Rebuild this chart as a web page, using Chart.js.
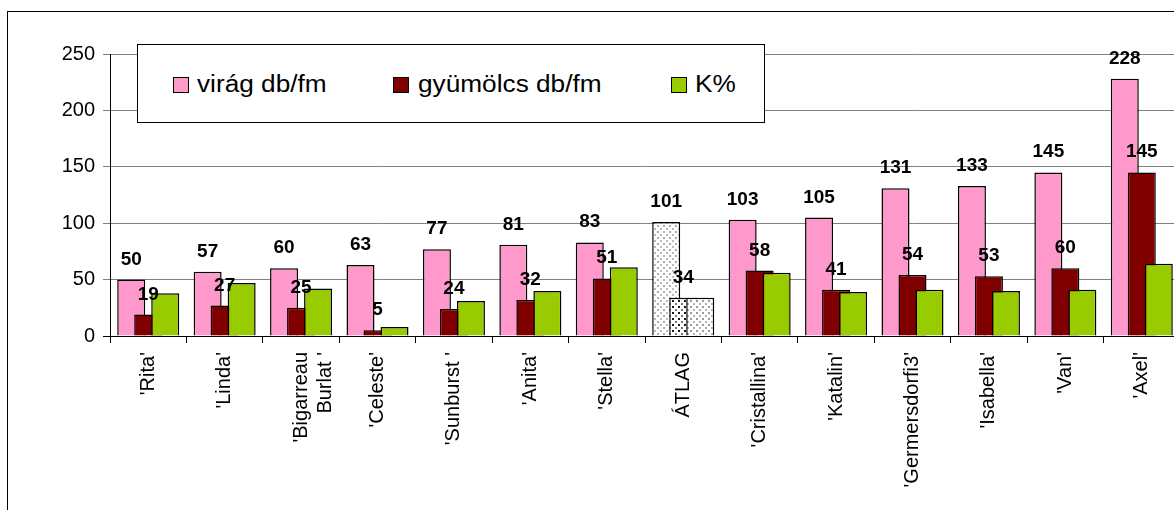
<!DOCTYPE html>
<html>
<head>
<meta charset="utf-8">
<script src="https://cdn.jsdelivr.net/npm/chart.js@4"></script>
<style>
  html, body { margin: 0; padding: 0; background: #fff; overflow: hidden; }
  #wrap { position: relative; width: 1174px; height: 510px; overflow: hidden; }
  #frame { position: absolute; left: 7px; top: 11px; width: 1300px; height: 600px;
           border: 1px solid #000; pointer-events: none; }
  #box { position: absolute; left: 0; top: 0; width: 1180px; height: 510px; }
  #legend { position: absolute; left: 137px; top: 44px; width: 626px; height: 77px;
            border: 1px solid #000; background: #fff;
            font-family: "Liberation Sans", Arial, sans-serif; font-size: 23px; color: #000; }
  .sw { position: absolute; top: 32px; width: 14px; height: 14px; border: 1px solid #000; }
  .lt { position: absolute; top: 26px; line-height: 26px; white-space: nowrap;
        transform: scaleX(1.14); transform-origin: left center; }
</style>
</head>
<body>
<div id="wrap">
  <div id="frame"></div>
  <div id="box"><canvas id="chart"></canvas></div>
  <div id="legend"></div>
</div>
<script>
// fajták (kategóriák)
const fajtak = ["'Rita'", "'Linda'", ["'Bigarreau", "Burlat '"], "'Celeste'", "'Sunburst '",
  "'Anita'", "'Stella'", "ÁTLAG", "'Cristallina'", "'Katalin'", "'Germersdorfi3'",
  "'Isabella'", "'Van'", "'Axel'"];

const virag    = [50, 57, 60, 63, 77, 81, 83, 101, 103, 105, 131, 133, 145, 228];
const gyumolcs = [19, 27, 25, 5, 24, 32, 51, 34, 58, 41, 54, 53, 60, 145];
const kSzazalek = [38, 47, 42, 8, 31, 40, 61, 34, 56, 39, 41, 40, 41, 64];

const yTicks = [0, 50, 100, 150, 200, 250];
const atlagIndex = 7;

const FONT = '"Liberation Sans", Arial, sans-serif';

// pöttyös minta az ÁTLAG oszlopokhoz
function pottyos(dot1, dot2) {
  const c = document.createElement('canvas');
  c.width = 6; c.height = 6;
  const g = c.getContext('2d');
  g.fillStyle = '#fff';
  g.fillRect(0, 0, 6, 6);
  g.fillStyle = dot1;
  g.fillRect(0, 0, 2, 2);
  g.fillStyle = dot2;
  g.fillRect(3, 3, 2, 2);
  return g.createPattern(c, 'repeat');
}

function szinek(alap, minta) {
  return virag.map((_, i) => i === atlagIndex ? minta : alap);
}

const sorozatok = [
  { label: 'virág db/fm', data: virag, color: '#ff99cc', minta: pottyos('#bcbcbc', '#acacac') },
  { label: 'gyümölcs db/fm', data: gyumolcs, color: '#800000', minta: pottyos('#1a1a1a', '#7a7a7a') },
  { label: 'K%', data: kSzazalek, color: '#99cc00', minta: pottyos('#9c9c9c', '#b4b4b4') }
];

// HTML jelmagyarázat
const legendPos = [[35, 59], [255, 280], [533, 557]];
const legendEl = document.getElementById('legend');
sorozatok.forEach((s, i) => {
  const sw = document.createElement('div');
  sw.className = 'sw';
  sw.style.left = legendPos[i][0] + 'px';
  sw.style.background = s.color;
  legendEl.appendChild(sw);
  const t = document.createElement('div');
  t.className = 'lt';
  t.style.left = legendPos[i][1] + 'px';
  t.textContent = s.label;
  legendEl.appendChild(t);
});

// oszlopok rajzolása sorrendben (a zöld legyen felül), utána az értékcímkék
const rajzSorrend = {
  id: 'rajzSorrend',
  beforeDatasetsDraw(chart) {
    const metas = chart.getSortedVisibleDatasetMetas().slice().sort((a, b) => a.index - b.index);
    metas.forEach(m => m.controller.draw());

    const ctx = chart.ctx;
    ctx.save();
    ctx.font = 'bold 19px ' + FONT;
    ctx.fillStyle = '#000';
    ctx.textAlign = 'center';
    ctx.textBaseline = 'alphabetic';
    [0, 1].forEach(di => {
      chart.getDatasetMeta(di).data.forEach((el, i) => {
        ctx.fillText(String(chart.data.datasets[di].data[i]), el.x, el.y - 15);
      });
    });
    ctx.restore();
    return false;
  }
};

const ctx = document.getElementById('chart').getContext('2d');
new Chart(ctx, {
  type: 'bar',
  data: {
    labels: fajtak,
    datasets: sorozatok.map(s => ({
      label: s.label,
      data: s.data,
      backgroundColor: szinek(s.color, s.minta),
      borderColor: '#000',
      borderWidth: 1.5,
      categoryPercentage: 0.6675,
      barPercentage: 1.647
    }))
  },
  options: {
    responsive: true,
    maintainAspectRatio: false,
    animation: false,
    layout: { padding: { top: 54, left: 0, right: 0, bottom: 0 } },
    plugins: {
      legend: { display: false },
      title: { display: false },
      tooltip: { enabled: false }
    },
    scales: {
      x: {
        grid: { display: true, drawOnChartArea: false, offset: true, tickLength: 7, tickColor: '#000' },
        border: { color: '#000', width: 1 },
        ticks: {
          autoSkip: false, minRotation: 90, maxRotation: 90, padding: 9,
          color: '#000', font: { family: FONT, size: 20 }
        },
        afterFit(scale) { scale.height = 174; }
      },
      y: {
        min: 0, max: 250,
        afterBuildTicks(scale) { scale.ticks = yTicks.map(v => ({ value: v })); },
        grid: {
          color: c => c.tick && c.tick.value === 0 ? '#000' : '#808080',
          tickColor: c => c.tick && c.tick.value === 0 ? '#000' : '#808080',
          tickLength: 7
        },
        border: { color: '#000', width: 1 },
        ticks: { padding: 8, color: '#000', font: { family: FONT, size: 20 } },
        afterFit(scale) { scale.width = 110; }
      }
    }
  },
  plugins: [rajzSorrend]
});
</script>
</body>
</html>
